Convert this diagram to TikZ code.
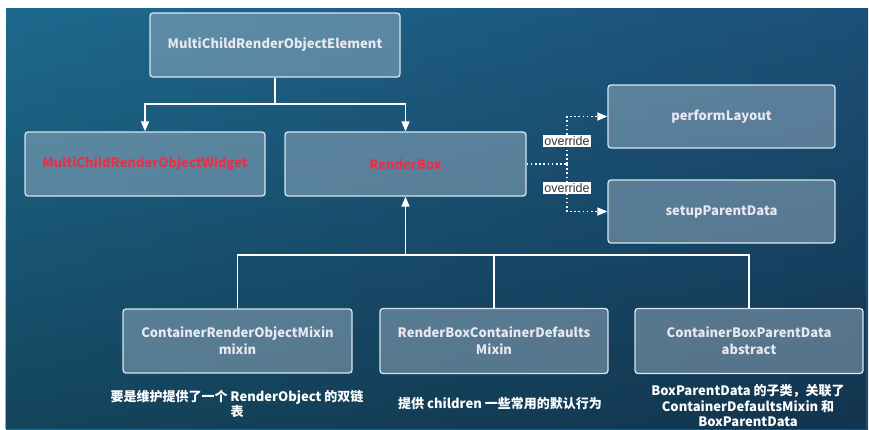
\documentclass[tikz,border=0pt]{standalone}
\usepackage{fontspec}
\setmainfont{Noto Sans CJK SC}
\newfontfamily\ovfont{Liberation Sans}
\usetikzlibrary{arrows.meta,fadings}
\definecolor{bgl}{HTML}{1E6A8E}
\definecolor{bgm}{HTML}{25387A}
\definecolor{bgr}{HTML}{1D5078}
\definecolor{boxfill}{HTML}{A8BCCE}
\definecolor{boxline}{HTML}{D6E6F0}
\definecolor{boxtext}{HTML}{E8E8F0}
\definecolor{redtext}{HTML}{E8304A}
\tikzfading[name=fadedown, top color=transparent!100, bottom color=transparent!0]
\tikzset{
  box/.style={draw=boxline, line width=1.3pt, rounded corners=3pt,
    fill=boxfill, fill opacity=0.45, text opacity=1, text=boxtext,
    font=\bfseries\fontsize{13}{17}\selectfont, align=center, inner sep=0pt},
  redbox/.style={box, text=redtext},
  conn/.style={draw=white, line width=1.4pt},
  arr/.style={conn, -{Triangle[width=8pt,length=10pt]}},
  dotline/.style={draw=white, line width=1.6pt, dash pattern=on 1.6pt off 2.6pt},
  dotarr/.style={dotline, -{Triangle[width=8pt,length=10pt]}},
  ovl/.style={fill=white, text=black!80, font=\ovfont\fontsize{12.5}{13}\selectfont, inner xsep=1pt, inner ysep=1.5pt},
  note/.style={text=white, font=\bfseries\fontsize{13}{15.5}\selectfont, align=center, inner sep=0pt}
}
\begin{document}
\begin{tikzpicture}[x=1pt,y=-1pt]
\useasboundingbox (0,0) rectangle (869,429);
\fill[white] (0,0) rectangle (869,429);
\shade[left color=bgl, middle color=bgm, right color=bgr] (6,8) rectangle (868,429);
\fill[black, opacity=0.35, path fading=fadedown] (6,8) rectangle (868,429);

\node[box, minimum width=250pt, minimum height=64pt] (elem) at (275,45) {MultiChildRenderObjectElement};
\node[redbox, minimum width=240pt, minimum height=64pt] (widget) at (145,164) {MultiChildRenderObjectWidget};
\node[redbox, minimum width=241pt, minimum height=64pt] (rbox) at (405.5,164) {RenderBox};
\node[box, minimum width=227pt, minimum height=63pt] (perf) at (721.5,116.5) {performLayout};
\node[box, minimum width=227pt, minimum height=63pt] (setup) at (721.5,211.5) {setupParentData};
\node[box, minimum width=229pt, minimum height=64pt] (crom) at (237.5,341) {ContainerRenderObjectMixin\\mixin};
\node[box, minimum width=228pt, minimum height=65pt] (rbcd) at (494,341) {RenderBoxContainerDefaults\\Mixin};
\node[box, minimum width=228pt, minimum height=65pt] (cbpd) at (749,341) {ContainerBoxParentData\\abstract};

\coordinate (bus1) at (275,104);
\draw[conn] (elem.south) -- (bus1);
\draw[arr] (bus1) -| (widget.north);
\draw[arr] (bus1) -| (rbox.north);

\coordinate (bus2) at (405.5,255);
\draw[conn] (crom.north) |- (cbpd.north |- bus2) -- (cbpd.north);
\draw[conn] (rbcd.north) -- (rbcd.north |- bus2);
\draw[arr] (bus2) -- (rbox.south);

\coordinate (dsplit) at (567,164);
\draw[dotline] (rbox.east) -- (dsplit);
\draw[dotarr] (dsplit) |- (perf.west);
\draw[dotarr] (dsplit) |- (setup.west);
\node[ovl] (ov1) at (567,141) {override};
\node[ovl] (ov2) at (567,188) {override};

\node[note] (n1) at (237,404) {要是维护提供了一个 RenderObject 的双链\\表};
\node[note] (n2) at (500,404) {提供 children 一些常用的默认行为};
\node[note] (n3) at (748,406) {BoxParentData 的子类，关联了\\ContainerDefaultsMixin 和\\BoxParentData};
\end{tikzpicture}
\end{document}
